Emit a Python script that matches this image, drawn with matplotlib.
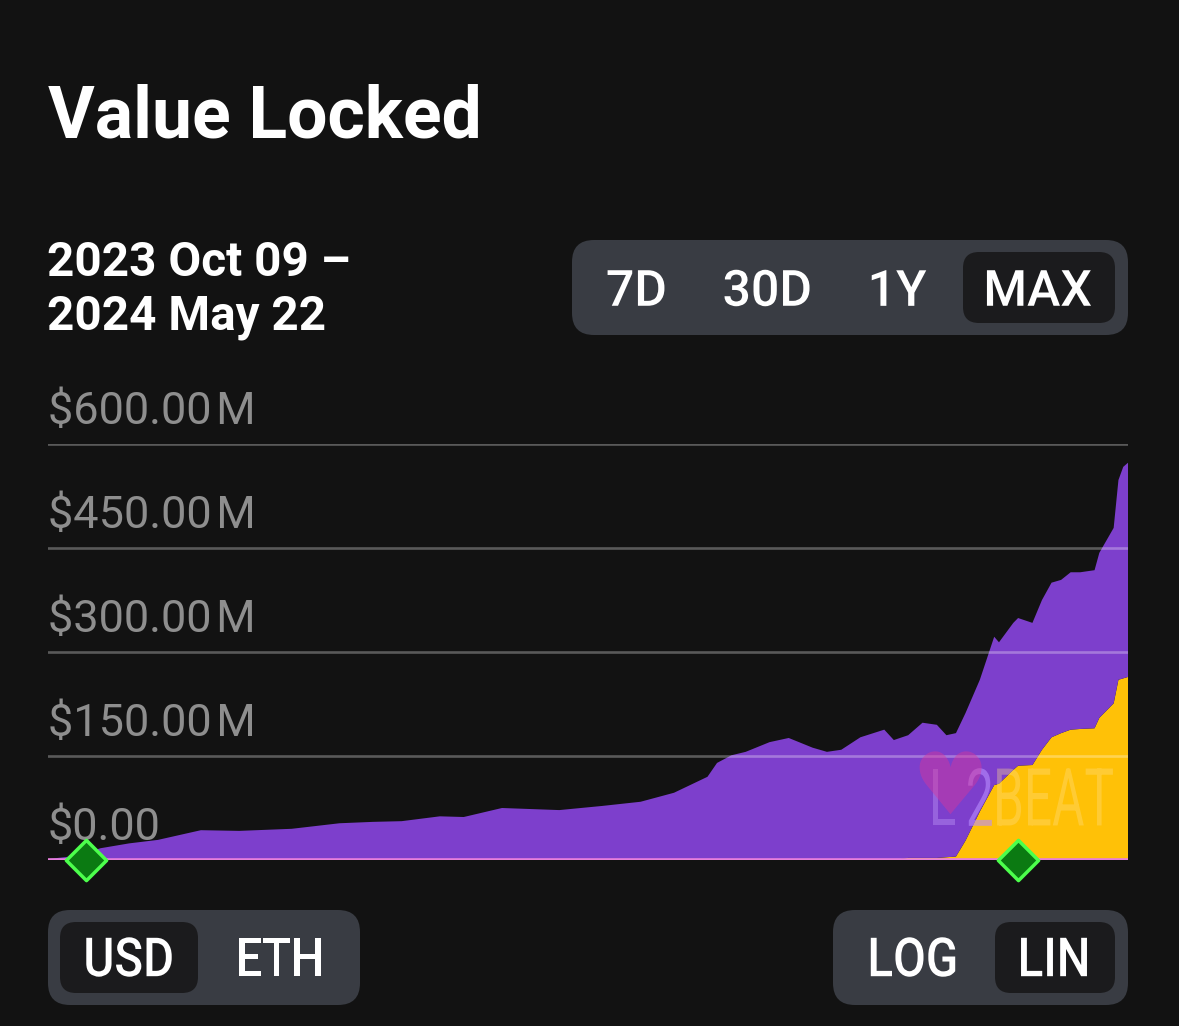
import numpy as np
import pandas as pd
import matplotlib
matplotlib.use("Agg")
import matplotlib.pyplot as plt
from matplotlib.patches import FancyBboxPatch, PathPatch
from matplotlib.textpath import TextPath
from matplotlib.font_manager import FontProperties
from matplotlib.transforms import Affine2D

# ---------------- data ----------------
start_date = "2023-10-09"
end_date = "2024-05-22"
day_offsets = [0, 6, 11, 17, 23, 32, 40, 51, 61, 68, 74, 82, 87, 95, 107, 116, 124,
               131, 138, 140, 143, 146, 151, 155, 160, 163, 166, 170, 175, 177, 180,
               183, 186, 188, 190, 192, 195, 198, 199, 202, 203, 206, 208, 210, 212,
               214, 216, 219, 220, 223, 224, 225, 226]
# canonically bridged (purple), USD millions
canonical = [1.4, 6, 17, 24, 29, 43, 42, 45, 53, 55, 56, 63, 62, 75, 72, 78, 84,
             97, 120, 140, 151, 156, 170, 176, 162, 156, 159, 177, 188, 173, 177,
             195, 192, 176, 178, 184, 190, 214, 204, 212, 213, 205, 216, 223, 221,
             227, 226, 228, 238, 253, 288, 305, 309]
# externally bridged (yellow), USD millions
external = [0, 0, 0, 0, 0, 0, 0, 0, 0, 0, 0, 0, 0, 0, 0, 0, 0,
            0, 0, 0, 0, 0, 0, 0, 0, 0, 0, 0, 0, 0, 3,
            3, 3, 4, 5, 28, 70, 108, 110, 130, 136, 137, 159, 177, 183,
            188, 189, 190, 205, 226, 260, 262, 264]
milestone_days = [8, 203]
y_ticks = [0, 150, 300, 450, 600]
y_tick_labels = ["$0.00", "$150.00\u200aM", "$300.00\u200aM", "$450.00\u200aM",
                 "$600.00\u200aM"]
title = "Value Locked"
range_line1 = "2023 Oct 09 \u2013"
range_line2 = "2024 May 22"
range_buttons = ["7D", "30D", "1Y", "MAX"]
unit_buttons = ["USD", "ETH"]
scale_buttons = ["LOG", "LIN"]

dates = pd.to_datetime(start_date) + pd.to_timedelta(day_offsets, unit="D")
mdates_x = pd.to_datetime(start_date) + pd.to_timedelta(milestone_days, unit="D")

# ---------------- style ----------------
W, H = 1179, 1026
BG = "#121212"
PURPLE = "#7d3fcc"
YELLOW = "#ffc107"
PINK = "#e77fdc"
FONT = "Roboto"

fig = plt.figure(figsize=(W / 100, H / 100), dpi=100, facecolor=BG)

# overlay axes in pixel coordinates
ov = fig.add_axes([0, 0, 1, 1], zorder=0)
ov.set_xlim(0, W)
ov.set_ylim(H, 0)
ov.axis("off")
ov.set_facecolor(BG)

def rbox(x0, y0, x1, y1, r, color):
    p = FancyBboxPatch((x0, y0), x1 - x0, y1 - y0,
                       boxstyle=f"round,pad=0,rounding_size={r}",
                       fc=color, ec="none", mutation_aspect=1)
    ov.add_patch(p)

def ctext(x, y, s, size, sx=1.0, color="white", weight="normal", alpha=1.0, z=5):
    """Text drawn as a path, centred at (x, y) in pixels, horizontally scaled by sx."""
    fp = FontProperties(family=FONT, weight=weight)
    tp = TextPath((0, 0), s, size=size, prop=fp)
    ext = tp.get_extents()
    tr = Affine2D().translate(-(ext.x0 + ext.x1) / 2, -(ext.y0 + ext.y1) / 2) \
        .scale(sx, -1).translate(x, y)
    path = tr.transform_path(tp)
    ov.add_patch(PathPatch(path, fc=color, ec="none", alpha=alpha, zorder=z))

# title & range
ov.text(48, 137, title, fontsize=51.5, fontweight="bold", color="white",
        family=FONT, va="baseline", ha="left")
ov.text(47, 276, range_line1, fontsize=34.3, fontweight="bold", color="white",
        family=FONT, va="baseline", ha="left")
ov.text(47, 330, range_line2, fontsize=34.3, fontweight="bold", color="white",
        family=FONT, va="baseline", ha="left")

GROUP = "#393c43"
SEL = "#1b1b1d"
# range buttons
rbox(572, 240, 1128, 335, 22, GROUP)
rbox(963, 252, 1115, 323, 16, SEL)
for s, cx in zip(range_buttons, [636, 767, 899, 1039]):
    ctext(cx, 288, s, 50, sx=1.0, weight="medium")

# unit buttons
rbox(48, 910, 360, 1005, 22, GROUP)
rbox(60, 922, 198, 993, 16, SEL)
for s, cx in zip(unit_buttons, [129, 280]):
    ctext(cx, 957, s, 54, sx=0.88, weight="medium")
# scale buttons
rbox(833, 910, 1128, 1005, 22, GROUP)
rbox(995, 922, 1115, 993, 16, SEL)
for s, cx in zip(scale_buttons, [913, 1054]):
    ctext(cx, 957, s, 54, sx=0.88, weight="medium")

# ---------------- chart ----------------
ax = fig.add_axes([48 / W, 1 - 860 / H, 1080 / W, 416 / H], zorder=2)
ax.set_facecolor("none")
for sp in ax.spines.values():
    sp.set_visible(False)
ax.set_xticks([])
ax.set_yticks([])
ax.set_xlim(pd.to_datetime(start_date), pd.to_datetime(end_date))
ax.set_ylim(0, 600)

ax.stackplot(dates, external, canonical, colors=[YELLOW, PURPLE], lw=0, zorder=2)

# watermark
ov2 = fig.add_axes([0, 0, 1, 1], zorder=3)
ov2.set_xlim(0, W)
ov2.set_ylim(H, 0)
ov2.axis("off")
ov2.set_facecolor("none")
ov2.text(950, 790, "\u2665", fontsize=62, color="#d8389a", alpha=0.45,
         ha="center", va="center", family="DejaVu Sans")
fp = FontProperties(family=FONT, weight="normal")
for s, cx, col, al in [("L", 944, "#c9a8ff", 0.35), ("2", 980, "#b98cff", 0.6),
                       ("BEAT", 1055, "#ffe08a", 0.35)]:
    tp = TextPath((0, 0), s, size=80, prop=fp)
    ext = tp.get_extents()
    tr = Affine2D().translate(-(ext.x0 + ext.x1) / 2, -(ext.y0 + ext.y1) / 2) \
        .scale(0.62, -1.0).translate(cx, 797)
    ov2.add_patch(PathPatch(tr.transform_path(tp), fc=col, ec="none", alpha=al))

# gridlines on top of area
for v in y_ticks[1:]:
    ax.axhline(v, color="white", alpha=0.3, lw=1.9, zorder=4)
ax.axhline(0, color=PINK, lw=2.6, zorder=5)

for v, lab in zip(y_ticks, y_tick_labels):
    ax.annotate(lab, xy=(0, v), xycoords=("axes fraction", "data"),
                xytext=(0, 14.5), textcoords="offset points", fontsize=32.5,
                color="#8e8e8e", family=FONT, va="baseline", ha="left", zorder=6)

ax.scatter(mdates_x, [0] * len(milestone_days), marker="D", s=420, c="#0b7a12",
           edgecolors="#4cff4c", linewidths=2.5, zorder=7, clip_on=False)

fig.savefig("out.png", dpi=100, facecolor=BG)
